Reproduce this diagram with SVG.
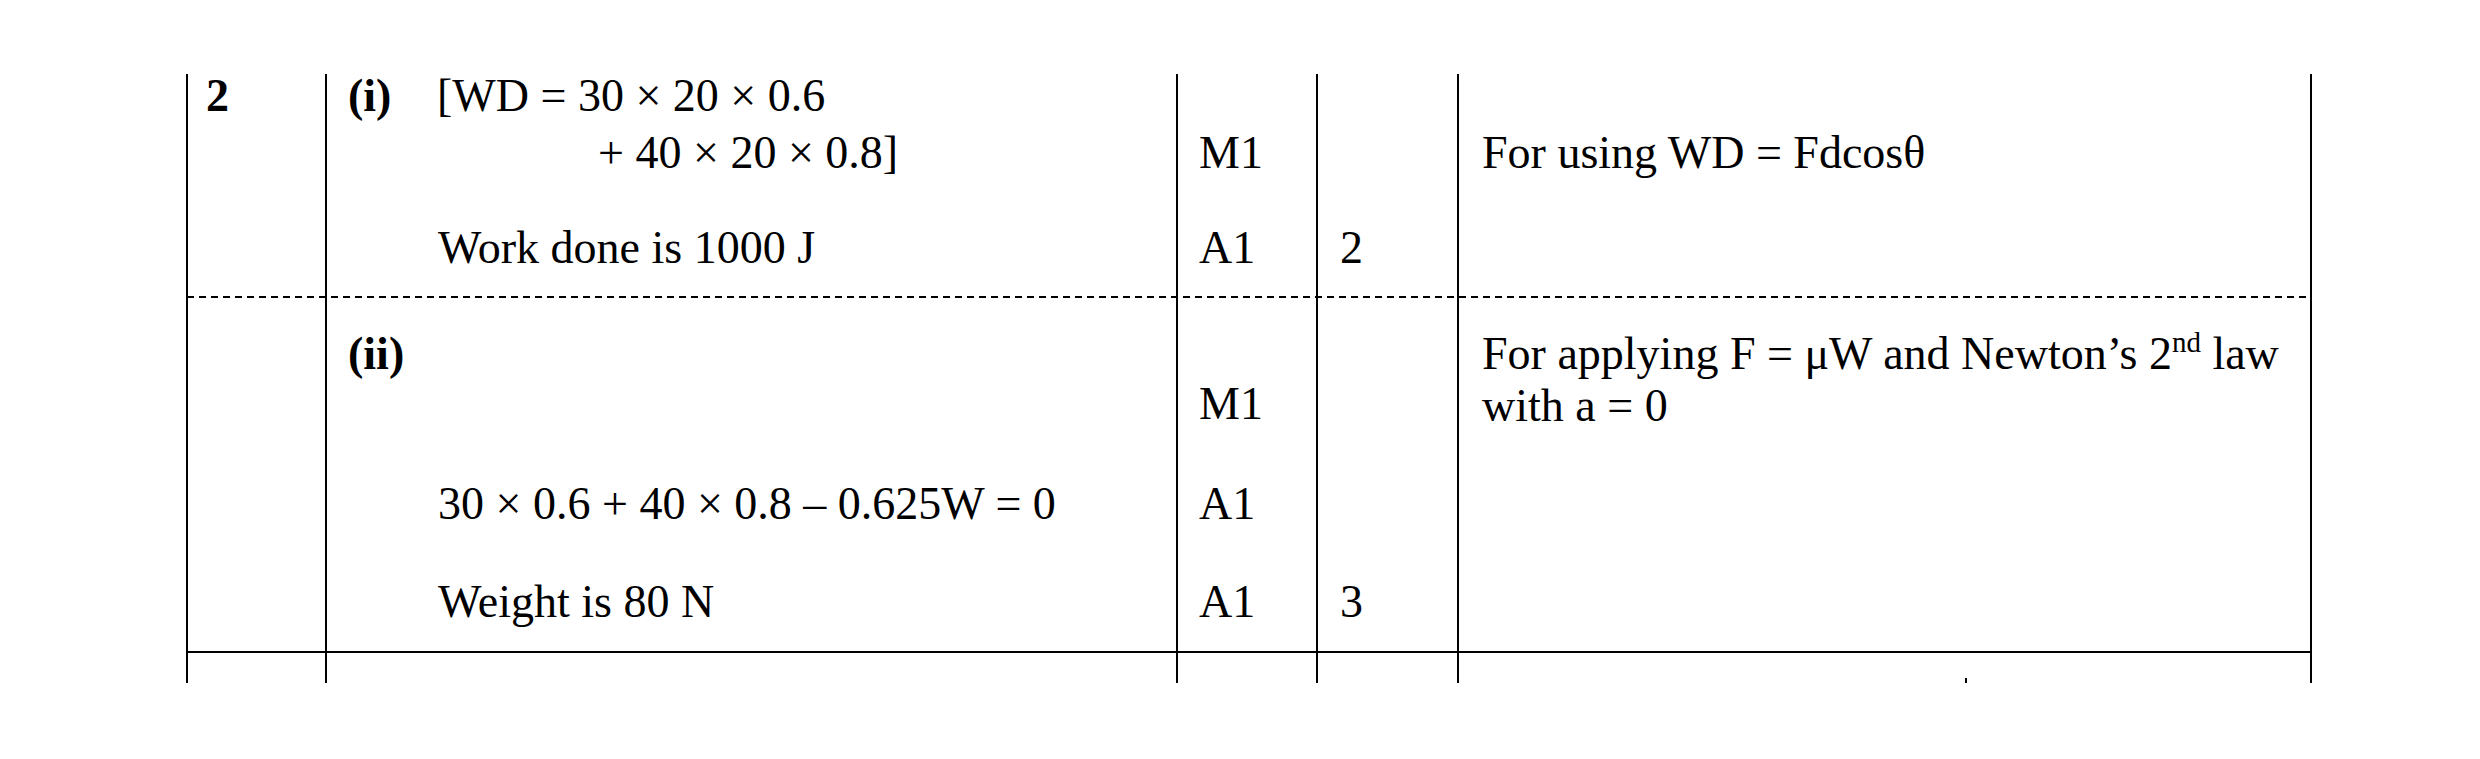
<svg xmlns="http://www.w3.org/2000/svg" width="2480" height="759" viewBox="0 0 2480 759">
<style>
text{font-family:"Liberation Serif","Times New Roman",serif;font-size:46px;fill:#000}
.b{font-weight:bold}
.l{stroke:#000;stroke-width:2;fill:none}
.d{stroke:#000;stroke-width:2;stroke-dasharray:7,5}
</style>
<rect width="2480" height="759" fill="#fff"/>
<g id="grid">
<line class="l" x1="187" y1="74" x2="187" y2="683"/>
<line class="l" x1="326" y1="74" x2="326" y2="683"/>
<line class="l" x1="1177" y1="74" x2="1177" y2="683"/>
<line class="l" x1="1317" y1="74" x2="1317" y2="683"/>
<line class="l" x1="1458" y1="74" x2="1458" y2="683"/>
<line class="l" x1="2311" y1="74" x2="2311" y2="683"/>
<line class="d" x1="187" y1="297" x2="2311" y2="297"/>
<line class="l" x1="187" y1="652" x2="2311" y2="652" stroke-width="2.5"/>
<line class="l" x1="1966" y1="678" x2="1966" y2="683"/>
</g>
<g id="part-i">
<text class="b" x="206" y="111">2</text>
<text class="b" x="348" y="111">(i)</text>
<text x="437" y="111">[WD = 30 × 20 × 0.6</text>
<text x="598" y="168">+ 40 × 20 × 0.8]</text>
<text x="438" y="263">Work done is 1000 J</text>
<text x="1199" y="168">M1</text>
<text x="1199" y="263">A1</text>
<text x="1340" y="263">2</text>
<text x="1482" y="168">For using WD = Fdcosθ</text>
</g>
<g id="part-ii">
<text class="b" x="348" y="369">(ii)</text>
<text x="438" y="519">30 × 0.6 + 40 × 0.8 – 0.625W = 0</text>
<text x="438" y="617">Weight is 80 N</text>
<text x="1199" y="419">M1</text>
<text x="1199" y="519">A1</text>
<text x="1199" y="617">A1</text>
<text x="1340" y="617">3</text>
<text x="1482" y="369">For applying F = μW and Newton’s 2<tspan font-size="29" dy="-17">nd</tspan><tspan dy="17"> law</tspan></text>
<text x="1482" y="421">with a = 0</text>
</g>
</svg>
